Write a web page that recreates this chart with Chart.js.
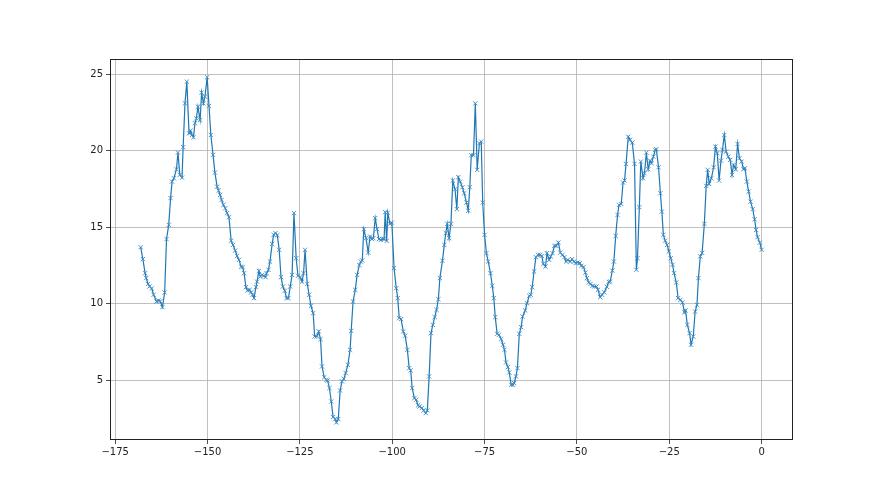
<!DOCTYPE html>
<html>
<head>
<meta charset="utf-8">
<script src="https://cdn.jsdelivr.net/npm/chart.js@4"></script>
<style>
  html, body { margin: 0; padding: 0; background: #fff; }
  #chart { display: block; }
</style>
</head>
<body>
<canvas id="chart" width="880" height="495"></canvas>
<script>
// values, in order along the trace
const hours = [
    -168.1, -167.5, -166.9, -166.6, -166.1, -165.7, -165.1, -164.6, -163.8, -163.3,
    -162.8, -162.2, -161.6, -161.1, -160.5, -160.0, -159.6, -159.1, -158.4, -158.0,
    -157.5, -156.9, -156.6, -156.1, -155.6, -155.0, -154.6, -154.2, -153.8, -153.4,
    -153.0, -152.6, -152.0, -151.6, -151.1, -150.7, -150.1, -149.6, -149.1, -148.5,
    -148.0, -147.4, -147.0, -146.6, -146.2, -145.7, -145.2, -144.7, -144.2,
    -143.6, -143.1, -142.5, -142.0, -141.5, -140.9, -140.5, -140.1, -139.6, -139.2,
    -138.6, -138.2, -137.8, -137.4, -136.9, -136.6, -136.1, -135.7, -135.2, -134.8,
    -134.3, -134.0, -133.5, -133.1, -132.5, -132.1, -131.6, -131.1, -130.6, -130.1,
    -129.6, -129.1, -128.6, -128.1, -127.6, -127.1, -126.6, -126.0, -125.5, -124.9,
    -124.4, -124.0, -123.6, -123.0, -122.5, -122.0, -121.4, -121.0, -120.4, -119.9,
    -119.4, -119.0,
    -118.4, -117.8, -117.5, -117.0, -116.5, -116.0, -115.4, -115.1, -114.6, -114.1,
    -113.6, -113.1, -112.6, -112.0, -111.4, -111.1, -110.6, -110.0, -109.5, -108.9,
    -108.5, -108.1, -107.7, -107.1, -106.5, -106.0, -105.5, -105.1, -104.6, -104.1,
    -103.6, -103.1, -102.6, -102.2, -101.9, -101.5, -101.2, -100.6, -100.1,
    -99.5, -98.9, -98.5, -98.1, -97.6, -97.0, -96.5, -95.9, -95.4, -95.0,
    -94.6, -94.0, -93.5, -93.0, -92.6, -92.0, -91.5, -90.9, -90.5, -90.0,
    -89.5, -89.0, -88.5, -88.0, -87.5, -87.1, -86.4, -85.9, -85.5, -85.1,
    -84.6, -84.1, -83.6, -83.0, -82.5, -82.1, -81.6, -81.0, -80.5, -79.9,
    -79.4, -79.0, -78.6, -78.0, -77.5, -77.0, -76.4, -75.9, -75.5, -75.0,
    -74.5, -74.0, -73.4, -72.9, -72.5, -72.1, -71.6, -71.1, -70.5, -70.0,
    -69.6, -69.2, -68.7, -68.3, -67.8, -67.3, -67.0, -66.5, -66.1, -65.6,
    -65.1, -64.7, -64.0, -63.5, -62.9, -62.5, -62.1, -61.6, -61.1, -60.5,
    -60.0, -59.5, -59.1, -58.5, -58.1, -57.5, -57.1, -56.6, -56.1, -55.6,
    -55.0, -54.5, -53.9, -53.4, -52.9, -52.5, -51.8, -51.3, -50.8, -50.3,
    -49.8, -49.2, -48.8, -48.2, -47.7, -47.3, -46.8, -46.3, -45.8, -45.3,
    -44.7, -44.3, -43.7, -43.2, -42.6,
    -41.9, -41.4, -41.0, -40.4, -40.0, -39.5, -39.0, -38.6, -38.0, -37.5,
    -37.1, -36.7, -36.1, -35.6, -35.0, -34.4, -33.9, -33.6, -33.1, -32.7,
    -32.1, -31.7, -31.2, -30.7, -30.2, -29.8, -29.3, -28.8, -28.5, -27.9,
    -27.4, -27.0, -26.6, -26.1, -25.6, -25.1, -24.6, -24.1, -23.7, -23.1,
    -22.6, -22.0, -21.4, -20.9, -20.6, -20.1, -19.5, -19.1, -18.5, -18.0,
    -17.5, -17.1,
    -16.6, -16.1, -15.5, -15.0, -14.6, -14.2, -13.6, -13.0, -12.5, -12.0,
    -11.5, -11.0, -10.6, -10.1, -9.6, -9.0, -8.5, -8.0, -7.6, -7.0,
    -6.5, -6.0, -5.4, -4.9, -4.5, -4.0, -3.5, -3.0, -2.4, -1.9,
    -1.5, -1.1, -0.5, 0.0
];

const values = [
    13.69, 12.91, 11.99, 11.67, 11.29, 11.12, 10.99, 10.58, 10.14, 10.2,
    10.16, 9.77, 10.73, 14.22, 15.15, 16.9, 17.98, 18.2, 18.79, 19.88,
    18.42, 18.24, 20.23, 23.1, 24.52, 21.14, 21.31, 21.03, 20.88, 21.8,
    22.12, 22.88, 22.01, 23.8, 23.1, 23.54, 24.8, 22.93, 21.03, 19.73,
    18.57, 17.65, 17.39, 17.11, 16.78, 16.46, 16.24, 15.92, 15.65,
    14.12, 13.84, 13.47, 13.12, 12.86, 12.42, 12.39, 11.99, 11.08, 10.86,
    10.9, 10.73, 10.58, 10.36, 11.08, 11.44, 12.14, 11.77, 11.88, 11.82,
    11.73, 11.99, 12.21, 12.75, 13.91, 14.5, 14.61, 14.48, 13.52, 11.73,
    11.12, 10.84, 10.36, 10.36, 11.12, 11.88, 15.92, 12.97, 11.82, 11.73,
    11.44, 11.99, 13.52, 11.29, 10.58, 9.86, 9.38, 7.85, 7.85, 8.18,
    7.68, 5.89,
    5.18, 5.02, 4.97, 4.48, 3.6, 2.58, 2.45, 2.23, 2.45, 4.32,
    4.91, 5.08, 5.46, 6.0, 6.98, 8.22, 10.14, 10.9, 11.88, 12.52,
    12.75, 12.82, 14.87, 14.28, 13.34, 14.39, 14.22, 14.28, 15.59, 14.87,
    14.22, 14.17, 14.22, 14.22, 15.98, 14.1, 15.95, 15.22, 15.3,
    12.32, 11.01, 10.36, 9.05, 8.99, 8.18, 7.9, 6.98, 5.78, 5.63,
    4.48, 3.82, 3.71, 3.35, 3.27, 3.17, 3.01, 2.84, 3.01, 5.24,
    8.07, 8.61, 9.12, 9.59, 10.29, 11.67, 12.8, 13.84, 14.61, 15.22,
    14.28, 15.22, 18.05, 17.48, 16.18, 18.27, 17.98, 17.61, 17.22, 16.61,
    16.08, 17.61, 19.71, 19.71, 23.1, 18.75, 20.49, 20.59, 16.61, 14.5,
    13.3, 12.75, 11.99, 11.16, 10.36, 9.12, 8.03, 7.96, 7.68, 7.31,
    6.98, 6.15, 5.85, 5.5, 4.69, 4.69, 4.8, 5.24, 5.78, 8.03,
    8.46, 9.16, 9.55, 10.03, 10.51, 10.58, 11.08, 12.1, 13.04, 13.19,
    13.19, 13.12, 12.6, 12.42, 13.3, 12.86, 13.08, 13.3, 13.78, 13.78,
    13.99, 13.34, 13.19, 13.04, 12.75, 12.86, 12.75, 12.91, 12.75, 12.65,
    12.69, 12.65, 12.47, 12.39, 12.03, 11.67, 11.38, 11.29, 11.16, 11.12,
    11.12, 10.9, 10.42, 10.58, 10.73,
    11.1, 11.42, 11.44, 12.16, 12.75, 14.43, 15.8, 16.46, 16.52, 17.92,
    18.05, 19.14, 20.92, 20.71, 20.53, 19.14, 12.21, 12.97, 16.31, 19.29,
    18.2, 18.53, 19.88, 18.79, 19.35, 19.18, 19.61, 20.05, 20.1, 18.92,
    17.22, 16.02, 14.5, 14.12, 13.84, 13.41, 12.97, 12.54, 11.99, 11.38,
    10.36, 10.25, 10.07, 9.42, 9.55, 8.61, 8.07, 7.31, 7.85, 9.48,
    9.92, 11.67,
    13.09, 13.32, 15.22, 17.7, 18.75, 17.83, 18.2, 18.92, 20.27, 19.84,
    18.05, 19.35, 20.05, 21.03, 19.94, 19.61, 19.4, 18.42, 19.07, 18.79,
    20.44, 19.51, 19.29, 18.79, 18.86, 17.98, 17.33, 16.67, 16.18, 15.52,
    14.82, 14.35, 13.99, 13.52
];

const xTicks = [-175, -150, -125, -100, -75, -50, -25, 0];
const yTicks = [5, 10, 15, 20, 25];

const points = hours.map((h, i) => ({ x: h, y: values[i] }));

const fmt = v => String(v).replace('-', '\u2212');
const tickFont = { family: 'DejaVu Sans', size: 10 };

// matplotlib draws a full box around the axes
const frame = {
    id: 'frame',
    afterDraw(chart) {
        const a = chart.chartArea;
        const c = chart.ctx;
        c.save();
        c.strokeStyle = '#222';
        c.lineWidth = 1;
        c.strokeRect(Math.round(a.left) + 0.5, Math.round(a.top) + 0.5,
            Math.round(a.right - a.left) - 1, Math.round(a.bottom - a.top) - 1);
        c.restore();
    }
};

new Chart(document.getElementById('chart'), {
    type: 'scatter',
    data: {
        datasets: [{
            data: points,
            showLine: true,
            borderColor: '#1f77b4',
            backgroundColor: '#1f77b4',
            borderWidth: 1.2,
            pointStyle: 'crossRot',
            pointRadius: 3,
            pointBorderWidth: 0.9,
            pointBorderColor: '#3a8ac4',
            tension: 0
        }]
    },
    options: {
        responsive: false,
        animation: false,
        layout: { padding: { top: 59, right: 87, left: 0, bottom: 0 } },
        plugins: { legend: { display: false }, tooltip: { enabled: false } },
        scales: {
            x: {
                type: 'linear',
                min: -176.4,
                max: 8.5,
                afterBuildTicks: s => { s.ticks = xTicks.map(v => ({ value: v })); },
                afterFit: s => { s.height = 55; },
                grid: { color: '#b0b0b0', lineWidth: 0.8, tickColor: '#222', tickLength: 4 },
                border: { display: false },
                ticks: { color: '#222', font: tickFont, padding: 2, maxRotation: 0, callback: v => fmt(v) }
            },
            y: {
                min: 1.08,
                max: 26.0,
                afterBuildTicks: s => { s.ticks = yTicks.map(v => ({ value: v })); },
                afterFit: s => { s.width = 110; },
                grid: { color: '#b0b0b0', lineWidth: 0.8, tickColor: '#222', tickLength: 4 },
                border: { display: false },
                ticks: { color: '#222', font: tickFont, padding: 3, callback: v => fmt(v) }
            }
        }
    },
    plugins: [frame]
});
</script>
</body>
</html>
